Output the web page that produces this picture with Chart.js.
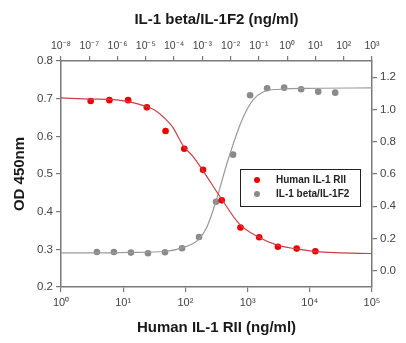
<!DOCTYPE html>
<html><head><meta charset="utf-8">
<script src="https://cdn.jsdelivr.net/npm/chart.js@4"></script>
<style>html,body{margin:0;padding:0;background:#fff}#wrap{width:406px;height:343px;position:relative}</style>
</head><body><div id="wrap"><canvas id="c" width="406" height="343"></canvas></div>
<script>
// Human IL-1 RII (bottom axis, left axis)
const rIIConc = [3, 6, 12, 24, 48, 96, 192, 384, 768, 1536, 3072, 6144, 12288];
const rIIOD = [0.694, 0.696, 0.696, 0.677, 0.614, 0.567, 0.511, 0.430, 0.358, 0.332, 0.307, 0.302, 0.295];
const rIICurveX = [1, 3.1, 6, 12, 24, 32, 45, 62, 93, 135, 188, 380, 740, 1490, 3000, 6100, 12400, 25000, 100000];
const rIICurveY = [0.702, 0.699, 0.698, 0.692, 0.679, 0.670, 0.650, 0.625, 0.574, 0.545, 0.511, 0.434, 0.367, 0.333, 0.311, 0.301, 0.294, 0.291, 0.289];
// IL-1 beta/IL-1F2 (top axis, right axis)
const il1Conc = [1.86e-7, 7.45e-7, 2.98e-6, 1.19e-5, 4.77e-5, 1.91e-4, 7.63e-4, 3.05e-3, 1.22e-2, 4.88e-2, 0.195, 0.781, 3.125, 12.5, 50];
const il1OD = [0.117, 0.117, 0.113, 0.109, 0.115, 0.140, 0.210, 0.428, 0.720, 1.088, 1.131, 1.135, 1.125, 1.110, 1.104];
const il1CurveX = [1e-8, 1.7e-7, 2.8e-6, 4.7e-5, 1.9e-4, 7.6e-4, 1.45e-3, 2.98e-3, 8.07e-3, 0.0253, 0.062, 0.14, 0.557, 6.43, 1000];
const il1CurveY = [0.111, 0.111, 0.114, 0.120, 0.142, 0.197, 0.272, 0.427, 0.687, 0.935, 1.059, 1.108, 1.125, 1.131, 1.133];
// Ticks
const bottomTickValues = [1, 10, 100, 1000, 10000, 100000];
const bottomTickLabels = ['10⁰', '10¹', '10²', '10³', '10⁴', '10⁵'];
const topTickValues = [1e-8, 1e-7, 1e-6, 1e-5, 1e-4, 1e-3, 1e-2, 1e-1, 1, 10, 100, 1000];
const topTickLabels = ['10⁻⁸', '10⁻⁷', '10⁻⁶', '10⁻⁵', '10⁻⁴', '10⁻³', '10⁻²', '10⁻¹', '10⁰', '10¹', '10²', '10³'];
const leftTickValues = [0.2, 0.3, 0.4, 0.5, 0.6, 0.7, 0.8];
const leftTickLabels = ['0.2', '0.3', '0.4', '0.5', '0.6', '0.7', '0.8'];
const rightTickValues = [0, 0.2, 0.4, 0.6, 0.8, 1.0, 1.2];
const rightTickLabels = ['0.0', '0.2', '0.4', '0.6', '0.8', '1.0', '1.2'];
const seriesNames = ['Human IL-1 RII', 'IL-1 beta/IL-1F2'];

const RED = '#f00000', RED_LINE = '#c84048', GRAY = '#8a8a8a', GRAY_LINE = '#9a9a9a';
const AX = '#7a7a7a', TICKC = '#444', TITLEC = '#1a1a1a';
const FONT = "'Liberation Sans', Arial, sans-serif";
Chart.defaults.font.family = FONT;

const pts = (xs, ys) => xs.map((x, i) => ({x: x, y: ys[i]}));
const setTicks = vals => (s) => { s.ticks = vals.map(v => ({value: v})); };

const legendPlugin = {
  id: 'boxLegend',
  afterDatasetsDraw(chart) {
    const ctx = chart.ctx, a = chart.chartArea;
    const bx = a.left + 179, by = a.top + 108, bw = 120, bh = 37;
    ctx.save();
    ctx.fillStyle = '#fff';
    ctx.fillRect(bx, by, bw, bh);
    ctx.strokeStyle = '#222'; ctx.lineWidth = 1;
    ctx.strokeRect(bx + 0.5, by + 0.5, bw, bh);
    const cols = [RED, GRAY];
    ctx.font = "bold 10px " + FONT;
    ctx.textBaseline = 'middle';
    for (let i = 0; i < 2; i++) {
      const yy = by + 11 + i * 14;
      ctx.fillStyle = cols[i];
      ctx.beginPath(); ctx.arc(bx + 17, yy, 3, 0, Math.PI * 2); ctx.fill();
      ctx.fillStyle = '#222';
      ctx.fillText(seriesNames[i], bx + 36, yy);
    }
    ctx.restore();
  }
};

new Chart(document.getElementById('c'), {
  type: 'scatter',
  data: {
    datasets: [
      {type: 'line', data: pts(rIICurveX, rIICurveY), xAxisID: 'x', yAxisID: 'y', borderColor: RED_LINE, borderWidth: 1.2, pointRadius: 0, cubicInterpolationMode: 'monotone', fill: false},
      {type: 'line', data: pts(il1CurveX, il1CurveY), xAxisID: 'x2', yAxisID: 'y2', borderColor: GRAY_LINE, borderWidth: 1.2, pointRadius: 0, cubicInterpolationMode: 'monotone', fill: false},
      {label: seriesNames[0], data: pts(rIIConc, rIIOD), xAxisID: 'x', yAxisID: 'y', backgroundColor: RED, borderColor: RED, pointRadius: 3.3, pointBorderWidth: 0},
      {label: seriesNames[1], data: pts(il1Conc, il1OD), xAxisID: 'x2', yAxisID: 'y2', backgroundColor: GRAY, borderColor: GRAY, pointRadius: 3.3, pointBorderWidth: 0}
    ]
  },
  options: {
    responsive: false, animation: false, devicePixelRatio: 1,
    layout: {padding: 0},
    plugins: {legend: {display: false}, tooltip: {enabled: false}},
    scales: {
      x: {
        type: 'logarithmic', position: 'bottom', min: 1, max: 100000,
        afterBuildTicks: setTicks(bottomTickValues),
        afterFit: s => { s.height = 56; },
        ticks: {callback: (v, i) => bottomTickLabels[i], color: TICKC, font: {size: 11}, maxRotation: 0, autoSkip: false, padding: 4},
        grid: {drawOnChartArea: false, tickLength: 5, color: AX, lineWidth: 1.2},
        border: {color: AX, width: 1.5},
        title: {display: true, text: 'Human IL-1 RII (ng/ml)', color: TITLEC, font: {size: 15, weight: 'bold'}, padding: {top: 0, bottom: 6}}
      },
      x2: {
        type: 'logarithmic', position: 'top', min: 1e-8, max: 1000,
        afterBuildTicks: setTicks(topTickValues),
        afterFit: s => { s.height = 61; },
        ticks: {callback: (v, i) => topTickLabels[i], color: TICKC, font: {size: 10.5}, maxRotation: 0, autoSkip: false, padding: 4},
        grid: {drawOnChartArea: false, tickLength: 5, color: AX, lineWidth: 1.2},
        border: {color: AX, width: 1.5},
        title: {display: true, text: 'IL-1 beta/IL-1F2 (ng/ml)', color: TITLEC, font: {size: 15, weight: 'bold'}, padding: {top: 11, bottom: 0}}
      },
      y: {
        type: 'linear', position: 'left', min: 0.2, max: 0.8,
        afterBuildTicks: setTicks(leftTickValues),
        afterFit: s => { s.width = 61; },
        ticks: {callback: (v, i) => leftTickLabels[i], color: TICKC, font: {size: 11.5}, padding: 3},
        grid: {drawOnChartArea: false, tickLength: 5, color: AX, lineWidth: 1.2},
        border: {color: AX, width: 1.5},
        title: {display: true, text: 'OD 450nm', color: TITLEC, font: {size: 15, weight: 'bold'}, padding: {top: 11, bottom: 0}}
      },
      y2: {
        type: 'linear', position: 'right', min: -0.1, max: 1.3,
        afterBuildTicks: setTicks(rightTickValues),
        afterFit: s => { s.width = 34; },
        ticks: {callback: (v, i) => rightTickLabels[i], color: TICKC, font: {size: 11.5}, padding: 3},
        grid: {drawOnChartArea: false, tickLength: 5, color: AX, lineWidth: 1.2},
        border: {color: AX, width: 1.5}
      }
    }
  },
  plugins: [legendPlugin]
});
</script></body></html>
